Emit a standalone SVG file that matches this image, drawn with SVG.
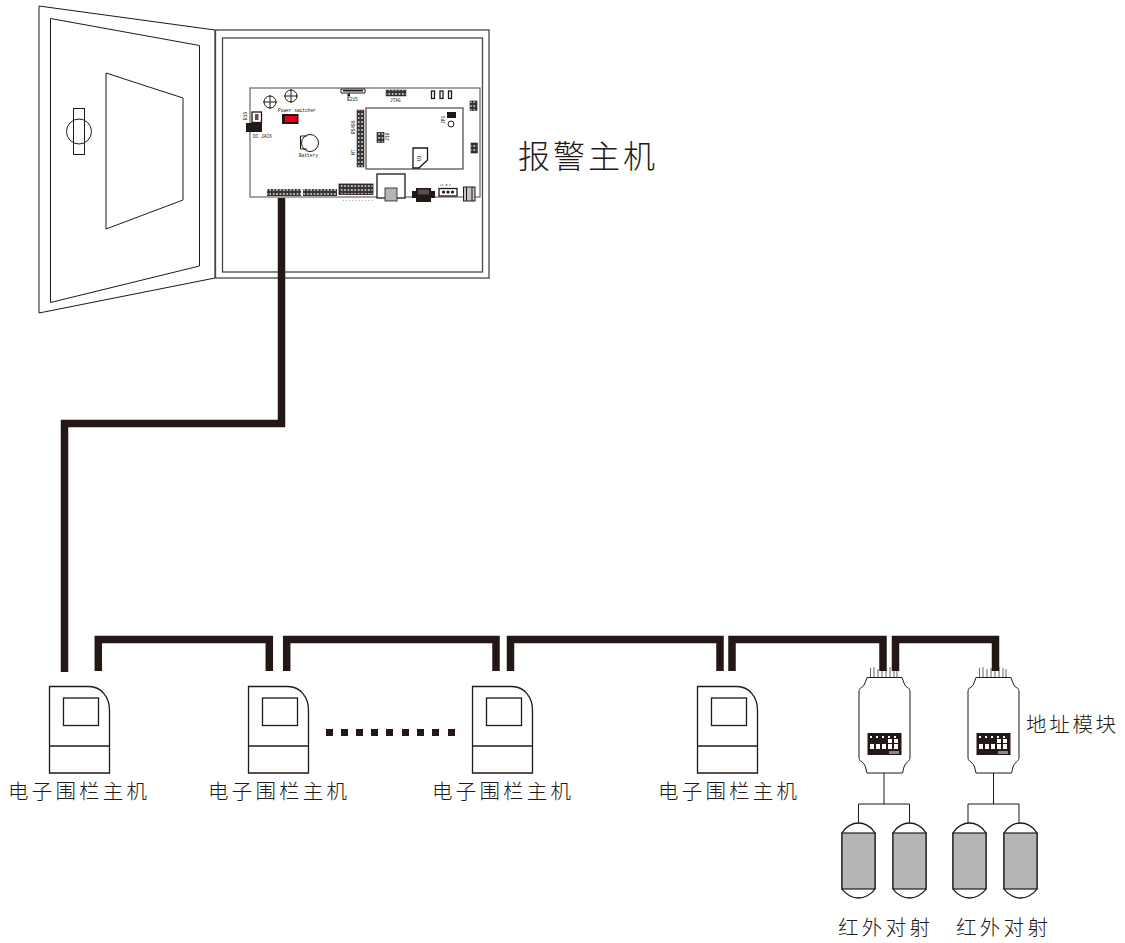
<svg xmlns="http://www.w3.org/2000/svg" xmlns:xlink="http://www.w3.org/1999/xlink" width="1125" height="943" viewBox="0 0 1125 943">
<style>
.l{fill:none;stroke:#231815;stroke-width:1}
.w{fill:#fff;stroke:#231815;stroke-width:1.3}
.d{fill:#231815}
.cable{fill:none;stroke:#231815;stroke-width:7.5;stroke-linejoin:miter}
.thin{fill:none;stroke:#231815;stroke-width:1}
.cn{font-family:"Noto Sans CJK SC",sans-serif;font-weight:300;fill:#231815;font-size:20.500px;letter-spacing:3.200px}
.t{font-family:"Liberation Mono",monospace;fill:#231815;font-size:4.500px}
.body{fill:#b5b5b5;stroke:#231815;stroke-width:1.200}
</style>
<defs>
<g id="dev">
<path class="w" d="M0.500 0.500H40C52 0.500 60.500 11 60.500 24V87H0.500Z"/>
<rect class="w" x="14.500" y="12" width="35" height="27.500"/>
<path class="w" d="M0.500 60H60.500"/>
</g>
<g id="mod">
<path class="l" d="M8 0.500H43L45 6C46 9 48 10.500 49.500 11C50.500 12 51 13 51 15V80C51 82 50.500 83 49.500 84C48 85 46 87 45 90L43.500 96H8L6.500 90C5.500 87 3.500 85 1.500 84C0.500 83 0 82 0 80V15C0 13 0.500 12 1.500 11C3 10.500 5 9 6 6Z"/>
<path d="M11.500 0V-9M15 0V-10M19 0V-8M23 0V-9M27 0V-7M31 0V-10M35 0V-9M38 0V-8" fill="none" stroke="#6a6663" stroke-width="1"/>
<rect class="d" x="8.500" y="56" width="34" height="22"/>
<g fill="#fff">
<rect x="11" y="67" width="4" height="5"/><rect x="17" y="67" width="4" height="5"/><rect x="23" y="67" width="4" height="5"/><rect x="29" y="67" width="4" height="5"/><rect x="35" y="67" width="4" height="5"/>
<rect x="35" y="62" width="4" height="4"/><rect x="29" y="62" width="4" height="4"/>
<rect x="11" y="59" width="2" height="2"/><rect x="17" y="59" width="2" height="2"/><rect x="23" y="59" width="2" height="2"/><rect x="29" y="59" width="2" height="2"/><rect x="35" y="59" width="2" height="2"/>
</g>
<rect x="30" y="74" width="10" height="3" fill="#888"/>
</g>
<g id="ir">
<path class="w" d="M0 10C4 3 11 0 16.500 0C22 0 29 3 33 10V66C29 72 22 75 16.500 75C11 75 4 72 0 66Z"/>
<rect class="body" x="0" y="10" width="33" height="56"/>
</g>
<pattern id="pins" width="3.400" height="4" patternUnits="userSpaceOnUse">
<rect width="3.400" height="4" fill="#3a3533"/><rect x="0.800" y="1.200" width="1.700" height="1.600" fill="#d8d8d8"/>
</pattern>
</defs>

<g id="door">
<path class="l" d="M39 6L215 30V278L39 313Z"/>
<path class="l" d="M50.500 18.500L199.500 45.500V266L50.500 302.500Z"/>
<path class="l" d="M106 73L183 98V200L106 229Z"/>
<rect class="l" x="73.500" y="108.500" width="11" height="46"/>
<circle class="l" cx="79" cy="131.500" r="12.500"/>
</g>

<g id="cabinet">
<rect x="215.500" y="30" width="273.500" height="248" fill="none" stroke="#4a4542" stroke-width="1.300"/>
<rect x="222.500" y="38" width="260" height="234" fill="none" stroke="#4a4542" stroke-width="1.300"/>
</g>

<g id="board">
<rect x="250" y="88" width="230" height="109" fill="#fff" stroke="#6a6663" stroke-width="1.200"/>
<g class="l"><circle cx="270" cy="102" r="6"/><path d="M263 102H277M270 95V109"/><circle cx="291" cy="96" r="6"/><path d="M284 96H298M291 89V103"/></g>
<text class="t" x="278" y="112">Power switcher</text>
<rect class="d" x="282" y="114" width="16.500" height="10"/><rect x="285" y="116" width="12" height="6" fill="#e60012"/>
<text class="t" transform="translate(247,120) rotate(-90)">B15</text>
<rect class="w" x="252" y="112" width="9.500" height="10.500"/><rect x="255" y="114" width="3.500" height="6" fill="#555"/>
<rect class="d" x="246" y="123" width="16" height="9"/>
<text class="t" x="253" y="138">DC JACK</text>
<path class="l" d="M300.500 136H307M300.500 136V149H307"/><circle class="l" cx="310" cy="143" r="8.500"/>
<text class="t" x="299" y="157">Battery</text>
<path class="l" d="M341 89H365V93H341Z"/><rect class="d" x="343" y="90" width="20" height="1.500"/><rect x="347.500" y="93.500" width="2.500" height="3" class="d"/>
<text class="t" x="347" y="101">B215</text>
<rect x="386" y="90" width="20" height="6" fill="url(#pins)" stroke="#231815" stroke-width=".5"/>
<text class="t" x="390" y="102">JTAG</text>
<rect class="w" x="431.500" y="91" width="3" height="7.500"/><rect class="w" x="440" y="91" width="3" height="7.500"/><rect class="w" x="448.500" y="91" width="3" height="7.500"/>
<rect x="470" y="101" width="7" height="9.500" fill="url(#pins)" stroke="#231815" stroke-width=".6"/>
<rect x="471" y="143" width="6.500" height="10" fill="url(#pins)" stroke="#231815" stroke-width=".6"/>
<rect x="366" y="108" width="97" height="61" fill="#fff" stroke="#4a4542" stroke-width="1.200"/>
<rect x="357" y="110" width="7" height="57" fill="url(#pins)" stroke="#231815" stroke-width=".5"/>
<text class="t" transform="translate(355,134) rotate(-90)">RS485</text>
<text class="t" transform="translate(355,155) rotate(-90)">MT</text>
<rect class="d" x="447" y="112" width="9" height="6"/>
<circle class="l" cx="451" cy="124" r="3"/>
<text class="t" transform="translate(445,124) rotate(-90)">JP1</text>
<rect x="377" y="132.500" width="7" height="10" fill="url(#pins)" stroke="#231815" stroke-width=".6"/>
<text class="t" transform="translate(389,141) rotate(-90)">J18</text>
<path class="w" d="M413 148H427.500V160L419 168H413Z"/>
<text class="t" transform="translate(421,161) rotate(-90)">U1</text>
<rect x="267" y="189" width="34" height="7" fill="url(#pins)"/>
<rect x="303" y="189" width="34" height="7" fill="url(#pins)"/>
<rect x="339" y="184" width="34" height="10.500" fill="url(#pins)" stroke="#231815" stroke-width=".8"/>
<text class="t" x="342" y="201" letter-spacing=".5">..........</text>
<rect class="w" x="377" y="174" width="28" height="24"/>
<rect x="385" y="188" width="12" height="13" fill="#b5b5b5" stroke="#231815" stroke-width=".8"/>
<path class="d" d="M412 191H416V188H431V191H435V198H431V202H416V198H412Z"/>
<rect x="418" y="189.500" width="11" height="5" fill="#55504d"/>
<rect class="w" x="439" y="188.500" width="18" height="7.500"/>
<circle cx="443.500" cy="192" r="1.600" class="d"/><circle cx="448" cy="192" r="1.600" class="d"/><circle cx="452.500" cy="192" r="1.600" class="d"/>
<text class="t" style="font-size:3px" x="440" y="186">12 G V</text>
<rect x="463.500" y="187" width="11.500" height="14" fill="#c4c4c4" stroke="#231815" stroke-width="1"/>
<path class="l" d="M466.500 187V201M472 187V201"/>
</g>

<g id="module1"><use xlink:href="#mod" href="#mod" x="859" y="677"/></g>
<g id="module2"><use xlink:href="#mod" href="#mod" x="968" y="677"/></g>

<g id="connectors">
<path class="cable" d="M281.500 198V423.500H64.500V672"/>
<path class="cable" d="M98.300 671V639.500H269.300V671"/>
<path class="cable" d="M286.700 671V639.500H496V671"/>
<path class="cable" d="M510.500 671V639.500H720V671"/>
<path class="cable" d="M732 671V639.500H883V671"/>
<path class="cable" d="M895.500 671V639.500H995.500V671"/>
<path class="thin" d="M884 773V804M858.500 823V804H909.500V823"/>
<path class="thin" d="M993.500 773V804M968 823V804H1019V823"/>
</g>

<g id="host1"><use xlink:href="#dev" href="#dev" x="49" y="686"/></g>
<g id="host2"><use xlink:href="#dev" href="#dev" x="248" y="686"/></g>
<g id="host3"><use xlink:href="#dev" href="#dev" x="472" y="686"/></g>
<g id="host4"><use xlink:href="#dev" href="#dev" x="697" y="686"/></g>

<g id="ellipsis" fill="#231815">
<rect x="326" y="729" width="7" height="7"/><rect x="341" y="729" width="7" height="7"/><rect x="356" y="729" width="7" height="7"/><rect x="371" y="729" width="7" height="7"/><rect x="386" y="729" width="7" height="7"/><rect x="402" y="729" width="7" height="7"/><rect x="417" y="729" width="7" height="7"/><rect x="432" y="729" width="7" height="7"/><rect x="448" y="729" width="7" height="7"/>
</g>

<g id="ir1"><use xlink:href="#ir" href="#ir" x="842" y="823"/></g>
<g id="ir2"><use xlink:href="#ir" href="#ir" x="893" y="823"/></g>
<g id="ir3"><use xlink:href="#ir" href="#ir" x="953" y="823"/></g>
<g id="ir4"><use xlink:href="#ir" href="#ir" x="1004" y="823"/></g>

<g id="labels">
<text class="cn" x="518" y="168" style="font-size:32px;letter-spacing:3px">报警主机</text>
<text class="cn" x="8" y="799">电子围栏主机</text>
<text class="cn" x="208" y="799">电子围栏主机</text>
<text class="cn" x="432" y="799">电子围栏主机</text>
<text class="cn" x="658" y="799">电子围栏主机</text>
<text class="cn" x="1026" y="732" style="letter-spacing:2.700px">地址模块</text>
<text class="cn" x="838" y="935" style="letter-spacing:3.300px">红外对射</text>
<text class="cn" x="956" y="935" style="letter-spacing:3.300px">红外对射</text>
</g>
</svg>
